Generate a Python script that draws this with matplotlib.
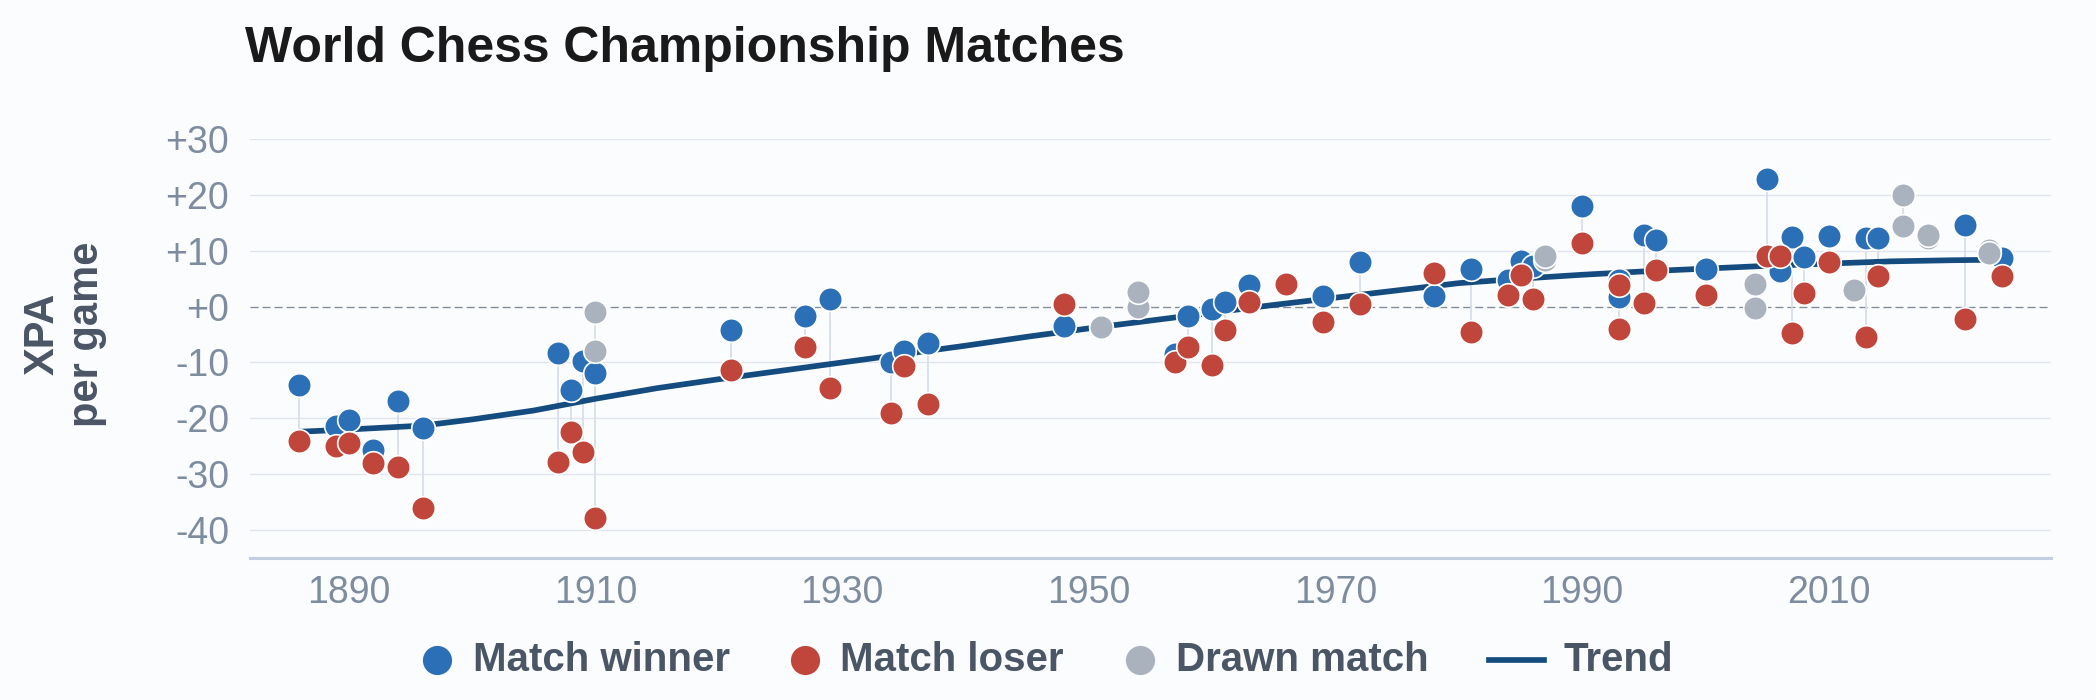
import matplotlib
matplotlib.use('Agg')
import matplotlib.pyplot as plt
from matplotlib.lines import Line2D

plt.rcParams['font.family'] = ['Liberation Sans', 'DejaVu Sans']

# decisive matches: year, XPA per game of winner and loser
match_years = [1886, 1889, 1890, 1892, 1894, 1896, 1907, 1908, 1909, 1910,
               1921, 1927, 1929, 1934, 1935, 1937, 1948, 1957, 1958, 1960,
               1961, 1963, 1966, 1969, 1972, 1978, 1981, 1984, 1985, 1986,
               1990, 1993, 1993, 1995, 1996, 2000, 2005, 2006, 2007, 2008,
               2010, 2013, 2014, 2021, 2024]
winner_xpa = [-14.1, -21.4, -20.3, -25.6, -16.9, -21.7, -8.3, -14.9, -9.8, -11.9,
              -4.2, -1.7, 1.4, -9.9, -8.0, -6.6, -3.5, -8.5, -1.6, -0.4,
              0.8, 3.9, 4.1, 1.9, 7.9, 1.9, 6.8, 4.8, 8.1, 7.2,
              18.0, 4.8, 1.7, 12.8, 12.0, 6.8, 22.8, 6.3, 12.4, 8.8,
              12.7, 12.2, 12.3, 14.6, 8.7]
loser_xpa = [-24.1, -24.9, -24.5, -28.0, -28.8, -36.0, -27.8, -22.4, -26.1, -37.9,
             -11.4, -7.2, -14.5, -19.0, -10.7, -17.5, 0.5, -10.0, -7.2, -10.4,
             -4.2, 0.8, 4.1, -2.8, 0.5, 6.0, -4.5, 2.0, 5.7, 1.4,
             11.4, 3.8, -4.0, 0.6, 6.6, 2.1, 9.0, 9.0, -4.7, 2.4,
             8.0, -5.4, 5.5, -2.3, 5.4]

# drawn matches: both players
drawn_years = [1910, 1951, 1954, 1987, 2004, 2012, 2016, 2018, 2023]
drawn_first = [-7.9, -3.7, -0.1, 8.3, -0.2, 2.9, 14.5, 12.2, 10.1]
drawn_second = [-1.0, -3.7, 2.6, 9.0, 4.1, 2.9, 19.9, 12.9, 9.6]

trend_years = [1886, 1890, 1896, 1900, 1905, 1910, 1915, 1920, 1925, 1930,
               1935, 1940, 1945, 1950, 1955, 1960, 1965, 1970, 1975, 1980,
               1985, 1990, 1995, 2000, 2005, 2010, 2015, 2020, 2024]
trend_xpa = [-22.4, -22.0, -21.3, -20.2, -18.6, -16.5, -14.6, -13.0, -11.5, -10.0,
             -8.5, -7.0, -5.4, -3.9, -2.5, -1.1, 0.3, 1.6, 2.9, 4.2,
             5.0, 5.7, 6.3, 6.8, 7.3, 7.7, 8.1, 8.3, 8.4]

x_ticks = [1890, 1910, 1930, 1950, 1970, 1990, 2010]
y_ticks = [-40, -30, -20, -10, 0, 10, 20, 30]
y_tick_labels = ['-40', '-30', '-20', '-10', '+0', '+10', '+20', '+30']

legend_labels = ['Match winner', 'Match loser', 'Drawn match', 'Trend']

WINNER = '#2b6fb6'
LOSER = '#c0463c'
DRAWN = '#aab2be'
TREND = '#154c80'
BG = '#fbfcfe'

fig = plt.figure(figsize=(20.96, 7), dpi=100, facecolor=BG)
ax = fig.add_axes([250 / 2096, 142 / 700, 1801 / 2096, 419 / 700])
ax.set_facecolor(BG)
ax.set_xlim(1882, 2028)
ax.set_ylim(-45, 30)

for v in y_ticks:
    if v != 0:
        ax.axhline(v, color='#dfe5ee', lw=1.0, zorder=1)
ax.axhline(0, color='#7f8b9a', lw=0.95, ls=(0, (6.1, 3.0)), zorder=1.5)

# connectors between the two players of a match
ax.vlines(match_years, winner_xpa, loser_xpa, color='#d6dde7', lw=1.25, zorder=2)
ax.vlines(drawn_years, drawn_first, drawn_second, color='#d6dde7', lw=1.25, zorder=2)

ax.plot(trend_years, trend_xpa, color=TREND, lw=4.1, zorder=3, solid_capstyle='round')

mk = dict(ls='none', marker='o', ms=17, mec='white', mew=1.2, zorder=4, clip_on=False)
ax.plot(match_years, winner_xpa, mfc=WINNER, **mk)
ax.plot(match_years, loser_xpa, mfc=LOSER, **mk)
d_years, d_vals = [], []
for y, a, b in zip(drawn_years, drawn_first, drawn_second):
    d_years += [y, y]
    d_vals += [a, b]
ax.plot(d_years, d_vals, mfc=DRAWN, **mk)

ax.set_xticks(x_ticks)
ax.set_xticklabels([str(t) for t in x_ticks])
ax.set_yticks(y_ticks)
ax.set_yticklabels(y_tick_labels)
ax.tick_params(length=0, labelsize=27, colors='#7d8c9e')
ax.tick_params(axis='x', pad=12)
ax.tick_params(axis='y', pad=15)
for s in ['left', 'top', 'right']:
    ax.spines[s].set_visible(False)
ax.spines['bottom'].set_color('#c3cee0')
ax.spines['bottom'].set_linewidth(2.2)

fig.text(245 / 2096, 1 - 62 / 700, 'World Chess Championship Matches',
         fontsize=36, fontweight='bold', color='#1a1a1a', va='baseline', ha='left')

fig.text(65 / 2096, 1 - 334 / 700, 'XPA\nper game', rotation=90, fontsize=30,
         fontweight='bold', color='#4a5565', ha='center', va='center',
         multialignment='center', linespacing=1.12)

# legend
leg_y = 1 - 660 / 700
text_y = 1 - 671 / 700
for cx, col in zip([437, 805, 1140], [WINNER, LOSER, DRAWN]):
    fig.add_artist(Line2D([cx / 2096], [leg_y], transform=fig.transFigure,
                          marker='o', ms=21, mfc=col, mec=col, mew=0, ls='none'))
fig.add_artist(Line2D([1489 / 2096, 1544 / 2096], [leg_y, leg_y],
                      transform=fig.transFigure, color=TREND, lw=4.1))
for tx, lab in zip([473, 840, 1176, 1563], legend_labels):
    fig.text(tx / 2096, text_y, lab, fontsize=29, fontweight='bold',
             color='#4a5565', ha='left', va='baseline')

fig.savefig('out.png', dpi=100, facecolor=BG)
